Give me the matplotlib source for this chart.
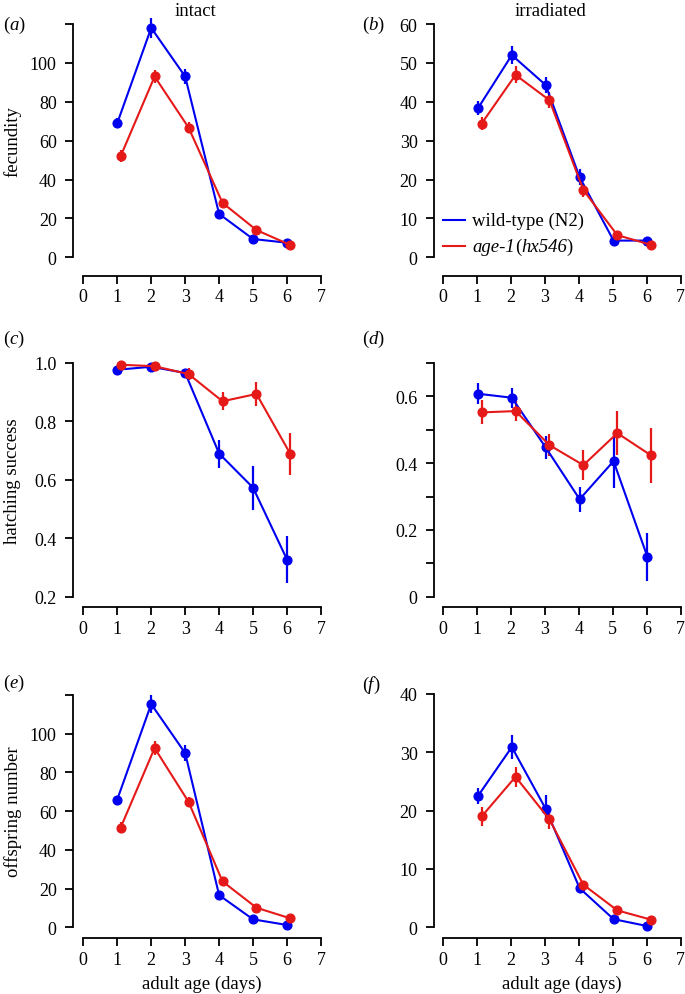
"""Fecundity / hatching / offspring panels, intact vs irradiated."""

import matplotlib

matplotlib.use("Agg")

import matplotlib.pyplot as plt
import numpy as np
from matplotlib.lines import Line2D

plt.rcParams["font.family"] = ["Liberation Serif", "DejaVu Serif"]

days = [1, 2, 3, 4, 5, 6]

# (a) fecundity, intact
fec_intact_wt = [69, 118, 93, 22.3, 9.4, 7.5]
fec_intact_wt_err = [2.5, 5, 4, 2, 1, 0.8]
fec_intact_age = [52, 93, 66.7, 28, 14, 6.3]
fec_intact_age_err = [3, 3.5, 3, 1.5, 1.2, 0.8]

# (b) fecundity, irradiated
fec_irr_wt = [38.3, 52, 44.3, 20.6, 4.3, 4.3]
fec_irr_wt_err = [1.8, 2.3, 2, 2, 0.5, 0.6]
fec_irr_age = [34.4, 46.9, 40.4, 17.3, 5.7, 3.2]
fec_irr_age_err = [1.7, 2.2, 2, 1.7, 0.6, 0.5]

# (c) hatching success, intact
hatch_intact_wt = [0.977, 0.987, 0.966, 0.69, 0.573, 0.327]
hatch_intact_wt_err = [0.008, 0.006, 0.01, 0.048, 0.075, 0.08]
hatch_intact_age = [0.994, 0.989, 0.962, 0.869, 0.894, 0.688]
hatch_intact_age_err = [0.005, 0.005, 0.02, 0.031, 0.04, 0.072]

# (d) hatching success, irradiated
hatch_irr_wt = [0.608, 0.596, 0.447, 0.292, 0.406, 0.119]
hatch_irr_wt_err = [0.031, 0.03, 0.035, 0.037, 0.08, 0.071]
hatch_irr_age = [0.552, 0.556, 0.454, 0.394, 0.49, 0.423]
hatch_irr_age_err = [0.036, 0.031, 0.032, 0.044, 0.065, 0.083]

# (e) offspring number, intact
off_intact_wt = [66, 115.3, 90, 16.6, 4.1, 1.2]
off_intact_wt_err = [2, 4.5, 4, 2, 0.6, 0.4]
off_intact_age = [51.5, 92.6, 64.8, 23.7, 10.1, 4.6]
off_intact_age_err = [3, 3.5, 2.5, 1.2, 0.8, 0.6]

# (f) offspring number, irradiated
off_irr_wt = [22.5, 30.9, 20.3, 6.7, 1.4, 0.2]
off_irr_wt_err = [1.4, 2, 2.3, 0.8, 0.3, 0.2]
off_irr_age = [19, 25.8, 18.5, 7.3, 2.9, 1.3]
off_irr_age_err = [1.6, 1.7, 1.6, 0.7, 0.3, 0.2]

BLUE = "#0000f0"
RED = "#e61919"
W, H = 685, 995
LABEL_SIZE = 13.5
TICK_SIZE = 13

fig = plt.figure(figsize=(W / 100, H / 100), dpi=100)


def _make_axes(px_left, px_right, px_top, px_bottom):
    return fig.add_axes(
        [
            px_left / W,
            1 - px_bottom / H,
            (px_right - px_left) / W,
            (px_bottom - px_top) / H,
        ]
    )


def _draw_panel(axis, wt, wt_err, age, age_err, offsets):
    x = np.asarray(days, dtype=float)
    for values, errors, colour, shift in (
        (wt, wt_err, BLUE, offsets[0]),
        (age, age_err, RED, offsets[1]),
    ):
        axis.errorbar(
            x + shift,
            values,
            yerr=errors,
            fmt="o-",
            color=colour,
            ecolor=colour,
            markersize=6.3,
            linewidth=1.5,
            elinewidth=1.6,
            capsize=0,
            clip_on=False,
        )


def _style(axis, ylim, yticks, ylabels, left_out, bottom_out):
    axis.set_xlim(0, 7)
    axis.set_ylim(*ylim)
    for side in ("top", "right"):
        axis.spines[side].set_visible(False)
    axis.spines["left"].set_position(("outward", left_out))
    axis.spines["bottom"].set_position(("outward", bottom_out))
    for side in ("left", "bottom"):
        axis.spines[side].set_linewidth(1.3)
    axis.set_xticks(range(8))
    axis.set_xticklabels([str(v) for v in range(8)])
    axis.set_yticks(yticks)
    axis.set_yticklabels(ylabels)
    axis.tick_params(axis="y", length=6, width=1.3, pad=6, labelsize=TICK_SIZE)
    axis.tick_params(axis="x", length=6, width=1.3, pad=3, labelsize=TICK_SIZE)


def _ylabel(axis, text):
    axis.set_ylabel(text, fontsize=LABEL_SIZE, va="center")
    axis.yaxis.set_label_coords((13 - 83.3) / 237.7, 0.5)


fec_ticks = [0, 20, 40, 60, 80, 100, 120]
fec_labels = ["0", "20", "40", "60", "80", "100", ""]

ax_a = _make_axes(83.3, 321, 25, 258.3)
_draw_panel(ax_a, fec_intact_wt, fec_intact_wt_err,
            fec_intact_age, fec_intact_age_err, (0.0, 0.1))
_style(ax_a, (0, 120), fec_ticks, fec_labels, 7.2, 13.2)
_ylabel(ax_a, "fecundity")

ax_b = _make_axes(443.3, 680.7, 25, 258.3)
_draw_panel(ax_b, fec_irr_wt, fec_irr_wt_err,
            fec_irr_age, fec_irr_age_err, (0.02, 0.13))
_style(ax_b, (0, 60), range(0, 61, 10),
       [str(v) for v in range(0, 61, 10)], 6.5, 13.2)

ax_c = _make_axes(83.3, 321, 364, 597.7)
_draw_panel(ax_c, hatch_intact_wt, hatch_intact_wt_err,
            hatch_intact_age, hatch_intact_age_err, (0.0, 0.1))
_style(ax_c, (0.2, 1.0), [0.2, 0.4, 0.6, 0.8, 1.0],
       ["0.2", "0.4", "0.6", "0.8", "1.0"], 7.2, 7.6)
_ylabel(ax_c, "hatching success")

ax_d = _make_axes(443.3, 680.7, 364, 597.7)
_draw_panel(ax_d, hatch_irr_wt, hatch_irr_wt_err,
            hatch_irr_age, hatch_irr_age_err, (0.02, 0.13))
_style(ax_d, (0, 0.7), [0, 0.1, 0.2, 0.3, 0.4, 0.5, 0.6, 0.7],
       ["0", "", "0.2", "", "0.4", "", "0.6", ""], 6.5, 7.6)

ax_e = _make_axes(83.3, 321, 696, 928.3)
_draw_panel(ax_e, off_intact_wt, off_intact_wt_err,
            off_intact_age, off_intact_age_err, (0.0, 0.1))
_style(ax_e, (0, 120), fec_ticks, fec_labels, 7.2, 7.9)
_ylabel(ax_e, "offspring number")
ax_e.set_xlabel("adult age (days)", fontsize=LABEL_SIZE, labelpad=5)

ax_f = _make_axes(443.3, 680.7, 695, 928.3)
_draw_panel(ax_f, off_irr_wt, off_irr_wt_err,
            off_irr_age, off_irr_age_err, (0.02, 0.13))
_style(ax_f, (0, 40), range(0, 41, 10),
       [str(v) for v in range(0, 41, 10)], 6.5, 7.9)
ax_f.set_xlabel("adult age (days)", fontsize=LABEL_SIZE, labelpad=5)

# legend in panel (b), drawn by hand so the strain name can mix styles
for colour, py in ((BLUE, 221), (RED, 247)):
    fig.add_artist(
        Line2D([443 / W, 465 / W], [1 - py / H, 1 - py / H],
               color=colour, linewidth=1.5, transform=fig.transFigure)
    )
fig.text(472 / W, 1 - 221 / H, "wild-type (N2)", va="center",
         fontsize=LABEL_SIZE)
previous = fig.text(472 / W, 1 - 247 / H, "age-1", style="italic",
                    va="center", fontsize=LABEL_SIZE)
for piece, italic in (("(", False), ("hx546", True), (")", False)):
    previous = plt.annotate(
        piece, xy=(1, 0), xycoords=previous, va="bottom", ha="left",
        fontsize=LABEL_SIZE, style="italic" if italic else "normal",
        annotation_clip=False,
    )

# column titles and panel letters
fig.text(195 / W, 1 - 11 / H, "intact", ha="center", va="center",
         fontsize=LABEL_SIZE)
fig.text(550 / W, 1 - 11 / H, "irradiated", ha="center", va="center",
         fontsize=LABEL_SIZE)
for letter, px, py in (
    ("a", 3, 25),
    ("b", 362, 25),
    ("c", 3, 339),
    ("d", 362, 339),
    ("e", 3, 683),
    ("f", 362, 685),
):
    opening = fig.text(px / W, 1 - py / H, "(", va="center",
                       fontsize=LABEL_SIZE)
    middle = plt.annotate(letter, xy=(1, 0), xycoords=opening, va="bottom",
                          fontsize=LABEL_SIZE, style="italic",
                          annotation_clip=False)
    plt.annotate(")", xy=(1, 0), xycoords=middle, va="bottom",
                 fontsize=LABEL_SIZE, annotation_clip=False)

fig.savefig("out.png", dpi=100)
